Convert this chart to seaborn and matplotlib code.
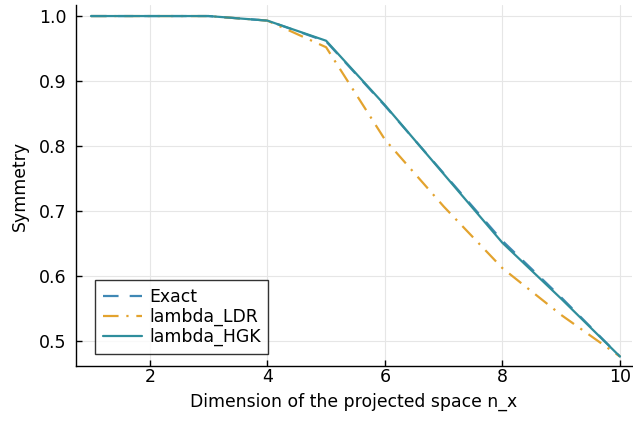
import matplotlib
matplotlib.use("Agg")
import matplotlib.pyplot as plt
import seaborn as sns
import pandas as pd

n_x = [1, 2, 3, 4, 5, 6, 7, 8, 9, 10]
exact = [1.0, 1.0, 1.0, 0.993, 0.961, 0.862, 0.758, 0.654, 0.567, 0.476]
lambda_ldr = [1.0, 1.0, 1.0, 0.993, 0.952, 0.810, 0.707, 0.612, 0.540, 0.476]
lambda_hgk = [1.0, 1.0, 1.0, 0.993, 0.962, 0.863, 0.757, 0.651, 0.565, 0.476]
series_names = ["Exact", "lambda_LDR", "lambda_HGK"]
colors = ["#3f88b5", "#e3a32e", "#2f8e9c"]
styles = [(0, (7, 5)), (0, (7, 3.5, 1, 3.5)), "-"]

sns.set_theme(style="white")
plt.rcParams['font.family'] = 'sans-serif'
plt.rcParams['font.sans-serif'] = ['DejaVu Sans']
plt.rcParams['text.color'] = 'black'
plt.rcParams['axes.labelcolor'] = 'black'

df = pd.DataFrame({"n_x": n_x * 3,
                   "value": exact + lambda_ldr + lambda_hgk,
                   "series": sum([[s] * len(n_x) for s in series_names], [])})

fig = plt.figure(figsize=(6.33, 4.23), dpi=100)
ax = fig.add_axes([76 / 633, 57 / 423, 556 / 633, 361 / 423])
for name, c, ls in zip(series_names, colors, styles):
    sub = df[df.series == name]
    sns.lineplot(data=sub, x="n_x", y="value", ax=ax, color=c, linestyle=ls,
                 linewidth=1.6, label=name)

ax.set_xlim(0.745, 10.204)
ax.set_ylim(0.4615, 1.017)
ax.set_xticks([2, 4, 6, 8, 10])
ax.set_yticks([0.5, 0.6, 0.7, 0.8, 0.9, 1.0])
ax.set_yticklabels(["0.5", "0.6", "0.7", "0.8", "0.9", "1.0"])
ax.grid(True, color="#e6e6e6", linewidth=0.8)
for s in ["top", "right"]:
    ax.spines[s].set_visible(False)
for s in ["left", "bottom"]:
    ax.spines[s].set_color("black")
    ax.spines[s].set_linewidth(1.0)
ax.tick_params(axis="both", direction="in", length=4, width=1, colors="black",
               labelsize=12.5, left=True, bottom=True)
ax.tick_params(axis="x", pad=1.5)
ax.tick_params(axis="y", pad=7)
ax.set_xlabel("Dimension of the projected space n_x", fontsize=12.4, labelpad=5,
              color="black")
ax.set_ylabel("Symmetry", fontsize=12.4, labelpad=7, color="black")
leg = ax.legend(loc="lower left", bbox_to_anchor=(0.034, 0.033), fontsize=12.4,
                frameon=True, fancybox=False, edgecolor="black",
                handlelength=2.3, handletextpad=0.4, borderpad=0.45,
                labelspacing=0.12, borderaxespad=0, labelcolor="black")
leg.get_frame().set_linewidth(1.0)
fig.savefig("out.png", dpi=100)
